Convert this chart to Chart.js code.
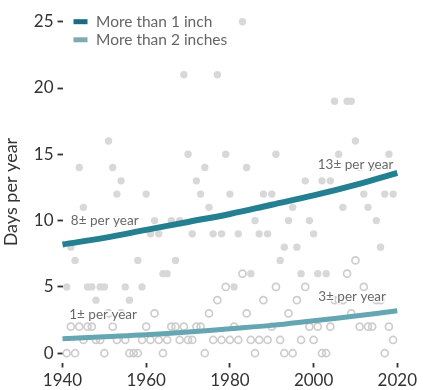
<!DOCTYPE html>
<html><head><meta charset="utf-8">
<script src="https://cdn.jsdelivr.net/npm/chart.js@4.4.1/dist/chart.umd.min.js"></script>
<style>html,body{margin:0;padding:0;background:#fff}#wrap{width:423px;height:390px}</style>
</head><body><div id="wrap"><canvas id="c" width="423" height="390"></canvas></div>
<script>
const years = [];
for (let y = 1941; y <= 2019; y++) years.push(y);
const daysOver1 = [5,8,7,14,11,5,5,4,5,5, 16,14,12,13,5,4,10,7,5,12, 9,10,9,6,6,10,7,10,21,15, 9,13,12,14,11,9,21,9,15,12, 5,9,25,14,6,10,9,12,9,12, 15,7,8,10,11,8,6,13,10,9, 6,13,6,13,19,15,11,19,19,16, 14,12,11,14,10,8,12,15,12];
const daysOver2 = [0,2,0,2,1,2,2,1,1,0, 3,2,1,3,1,0,0,0,1,2, 1,3,1,0,1,2,2,1,2,1, 1,2,2,0,3,1,4,1,5,1, 2,1,6,3,1,0,1,4,1,2, 5,1,0,3,0,4,1,5,2,1, 2,0,0,2,4,4,4,6,3,7, 2,5,2,2,4,4,0,2,1];
const trendYears = [1940,1950,1960,1970,1980,1990,2000,2010,2020];
const trendOver1 = [8.2,8.7,9.3,9.9,10.5,11.2,11.9,12.7,13.6];
const trendOver2 = [1.1,1.25,1.4,1.6,1.85,2.1,2.45,2.8,3.2];
const xTicks = [1940,1960,1980,2000,2020];
const yTicks = [0,5,10,15,20,25];
const legendLabels = ['More than 1 inch','More than 2 inches'];
const annotations = [
  {text:'8± per year', x:1942, y:10},
  {text:'1± per year', x:1941.6, y:2.9},
  {text:'13± per year', x:2001, y:14.2},
  {text:'3± per year', x:2001.1, y:4.27}
];
const FONT = 'Lato';
const c1 = '#247f90', c2 = '#66a5b2';
const leg1 = '#1d6b80', leg2 = '#80a9b2';

const pts = (xs, ys) => xs.map((x,i)=>({x:x, y:ys[i]}));

const overlay = {
  id:'overlay',
  afterDatasetsDraw(chart){
    const ctx = chart.ctx, xs = chart.scales.x, ys = chart.scales.y;
    ctx.save();
    ctx.font = '13.5px ' + FONT;
    ctx.textBaseline = 'middle';
    ctx.textAlign = 'left';
    annotations.forEach(a=>{
      const px = xs.getPixelForValue(a.x), py = ys.getPixelForValue(a.y);
      ctx.lineWidth = 3; ctx.strokeStyle = 'rgba(255,255,255,0.85)'; ctx.lineJoin='round';
      ctx.strokeText(a.text, px, py);
      ctx.fillStyle = '#686868';
      ctx.fillText(a.text, px, py);
    });
    const cols = [leg1, leg2];
    const ly = [21.7, 39.8];
    ctx.font = '15.5px ' + FONT;
    legendLabels.forEach((t,i)=>{
      ctx.fillStyle = cols[i];
      ctx.fillRect(73.5, ly[i]-2.5, 14, 5);
      ctx.fillStyle = '#666';
      ctx.fillText(t, 96, ly[i]+0.5);
    });
    ctx.restore();
  }
};

new Chart(document.getElementById('c'), {
  type:'scatter',
  data:{datasets:[
    {label:legendLabels[0], data:pts(trendYears,trendOver1), showLine:true, borderColor:c1, borderWidth:6, pointRadius:0, tension:0.4, borderCapStyle:'butt', order:0, clip:false},
    {label:legendLabels[1], data:pts(trendYears,trendOver2), showLine:true, borderColor:c2, borderWidth:5, pointRadius:0, tension:0.4, borderCapStyle:'butt', order:0, clip:false},
    {label:'over1', data:pts(years,daysOver1), pointRadius:3.7, pointBackgroundColor:'#d8d8d8', pointBorderWidth:0, pointBorderColor:'#d8d8d8', order:2, clip:false},
    {label:'over2', data:pts(years,daysOver2), pointRadius:3.5, pointBackgroundColor:'rgba(255,255,255,0)', pointBorderWidth:1.7, pointBorderColor:'#cdcdcd', order:1, clip:false}
  ]},
  options:{
    responsive:false, animation:false, devicePixelRatio:1,
    layout:{padding:{left:0, right:25.7, top:21.7, bottom:0}},
    plugins:{legend:{display:false}, tooltip:{enabled:false}},
    scales:{
      x:{type:'linear', min:1940, max:2020,
        afterBuildTicks:s=>{s.ticks = xTicks.map(v=>({value:v}));},
        afterFit:s=>{s.height = 27.5;},
        border:{display:false},
        grid:{drawOnChartArea:false, drawTicks:true, tickLength:5, tickColor:'#333', tickWidth:1.8},
        ticks:{color:'#333', font:{family:FONT, size:17}, padding:3, maxRotation:0, callback:v=>String(v)}
      },
      y:{type:'linear', min:-0.7, max:25,
        afterBuildTicks:s=>{s.ticks = yTicks.map(v=>({value:v}));},
        afterFit:s=>{s.width = 62.5;},
        border:{display:false},
        grid:{drawOnChartArea:false, drawTicks:true, tickLength:5, tickColor:'#333', tickWidth:1.8},
        ticks:{color:'#333', font:{family:FONT, size:17}, padding:4, callback:v=>String(v)},
        title:{display:true, text:'Days per year', color:'#333', font:{family:FONT, size:18}, padding:{top:0,bottom:0}}
      }
    }
  },
  plugins:[overlay]
});
</script></body></html>
